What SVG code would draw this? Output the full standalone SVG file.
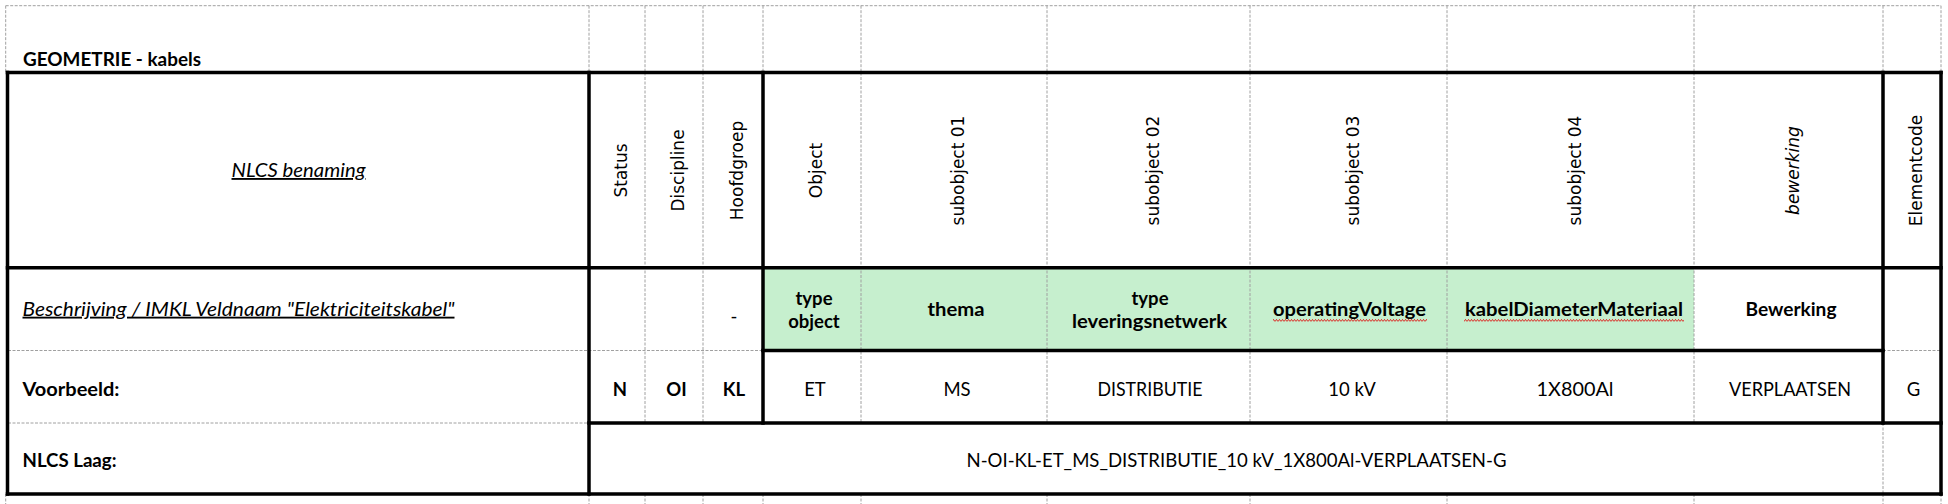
<svg xmlns="http://www.w3.org/2000/svg" width="1948" height="504" viewBox="0 0 1948 504">
<style>
.dash{stroke:#a0a0a0;stroke-width:1;stroke-dasharray:3 1.5;fill:none}
.thick{stroke:#000;stroke-width:3.5;fill:none;stroke-linecap:square}
.c{font-family:Lato,"Liberation Sans",sans-serif;font-size:18.5px;fill:#000}
.b{font-weight:bold}
.i{font-style:italic}
.u{text-decoration:underline}
.m{text-anchor:middle}
.r{font-family:"DejaVu Sans",sans-serif;font-size:17px;text-anchor:middle;fill:#000}
.green{fill:#C6EFCE}
</style>
<defs>
<pattern id="wave" patternUnits="userSpaceOnUse" x="0" y="319" width="3" height="3">
<path d="M0,2.6 L1.5,0.4 L3,2.6" stroke="#e00000" stroke-width="0.8" fill="none"/>
</pattern>
</defs>
<rect x="0" y="0" width="1948" height="504" fill="#fff"/>
<g id="fills">
<rect class="green" x="763" y="267.7" width="931" height="82.8"/>
</g>
<g id="gridlines">
<path class="dash" d="M5.7,5.7 H1941"/>
<path class="dash" d="M5.7,5.7 V72.5 M589,5.7 V72.5 M645,5.7 V72.5 M703,5.7 V72.5 M763,5.7 V72.5 M861,5.7 V72.5 M1047,5.7 V72.5 M1250,5.7 V72.5 M1447,5.7 V72.5 M1694,5.7 V72.5 M1883,5.7 V72.5 M1941,5.7 V72.5"/>
<path class="dash" d="M645,72.5 V423 M703,72.5 V423 M861,72.5 V423 M1047,72.5 V423 M1250,72.5 V423 M1447,72.5 V423 M1694,72.5 V423 M1883,423 V494"/>
<path class="dash" d="M5.7,494 V504 M589,494 V504 M645,494 V504 M703,494 V504 M763,494 V504 M861,494 V504 M1047,494 V504 M1250,494 V504 M1447,494 V504 M1694,494 V504 M1883,494 V504 M1941,494 V504"/>
<path class="dash" d="M8,350.5 H763 M1883,350.5 H1941 M8,423 H589"/>
</g>
<g id="borders">
<path class="thick" d="M7.5,72.5 H1941 M7.5,267.7 H1941 M763,350.5 H1883 M589,423 H1941 M7.5,494 H1941"/>
<path class="thick" d="M7.5,72.5 V494 M589,72.5 V494 M763,72.5 V423 M1883,72.5 V423 M1941,72.5 V494"/>
</g>
<g id="title">
<text class="c b" x="23" y="65.7" textLength="178" lengthAdjust="spacingAndGlyphs">GEOMETRIE - kabels</text>
</g>
<g id="header-row">
<text class="c i u m" x="298.5" y="177" textLength="134" lengthAdjust="spacingAndGlyphs">NLCS benaming</text>
<text class="r" transform="translate(627,170.5) rotate(-90)">Status</text>
<text class="r" transform="translate(684,170.5) rotate(-90)">Discipline</text>
<text class="r" transform="translate(743,170.5) rotate(-90)">Hoofdgroep</text>
<text class="r" transform="translate(822,170.5) rotate(-90)">Object</text>
<text class="r" transform="translate(964,170.5) rotate(-90)">subobject 01</text>
<text class="r" transform="translate(1158.5,170.5) rotate(-90)">subobject 02</text>
<text class="r" transform="translate(1358.5,170.5) rotate(-90)">subobject 03</text>
<text class="r" transform="translate(1580.5,170.5) rotate(-90)">subobject 04</text>
<text class="r" transform="translate(1798.5,170.5) rotate(-90)" font-style="italic">bewerking</text>
<text class="r" transform="translate(1922,170.5) rotate(-90)">Elementcode</text>
</g>
<g id="description-row">
<text class="c i u" x="22.5" y="315.7" textLength="432" lengthAdjust="spacingAndGlyphs">Beschrijving / IMKL Veldnaam "Elektriciteitskabel"</text>
<text class="c m" x="734" y="323" font-size="14">-</text>
<text class="c b m" x="814" y="305">type</text>
<text class="c b m" x="814" y="328">object</text>
<text class="c b m" x="956" y="315.7" textLength="57" lengthAdjust="spacingAndGlyphs">thema</text>
<text class="c b m" x="1150" y="305">type</text>
<text class="c b m" x="1149.5" y="328" textLength="155" lengthAdjust="spacingAndGlyphs">leveringsnetwerk</text>
<text class="c b m" x="1349.5" y="315.7" textLength="153" lengthAdjust="spacingAndGlyphs">operatingVoltage</text>
<rect x="1273" y="319" width="154" height="3" fill="url(#wave)"/>
<text class="c b m" x="1574" y="315.7" textLength="218" lengthAdjust="spacingAndGlyphs">kabelDiameterMateriaal</text>
<rect x="1464" y="319" width="220" height="3" fill="url(#wave)"/>
<text class="c b m" x="1791" y="315.7" textLength="91" lengthAdjust="spacingAndGlyphs">Bewerking</text>
</g>
<g id="example-row">
<text class="c b" x="22.5" y="395.5" textLength="97" lengthAdjust="spacingAndGlyphs">Voorbeeld:</text>
<text class="c b m" x="620" y="395.5">N</text>
<text class="c b m" x="676.5" y="395.5">OI</text>
<text class="c b m" x="734" y="395.5">KL</text>
<text class="c m" x="815" y="395.5">ET</text>
<text class="c m" x="957" y="395.5">MS</text>
<text class="c m" x="1150" y="395.5" textLength="105" lengthAdjust="spacingAndGlyphs">DISTRIBUTIE</text>
<text class="c m" x="1352" y="395.5">10 kV</text>
<text class="c m" x="1575" y="395.5" textLength="77" lengthAdjust="spacingAndGlyphs">1X800Al</text>
<text class="c m" x="1790" y="395.5" textLength="122" lengthAdjust="spacingAndGlyphs">VERPLAATSEN</text>
<text class="c m" x="1913.5" y="395.5">G</text>
</g>
<g id="layer-row">
<text class="c b" x="22.5" y="466.7" textLength="94" lengthAdjust="spacingAndGlyphs">NLCS Laag:</text>
<text class="c m" x="1236.5" y="466.7" textLength="540" lengthAdjust="spacingAndGlyphs">N-OI-KL-ET_MS_DISTRIBUTIE_10 kV_1X800Al-VERPLAATSEN-G</text>
</g>
</svg>
